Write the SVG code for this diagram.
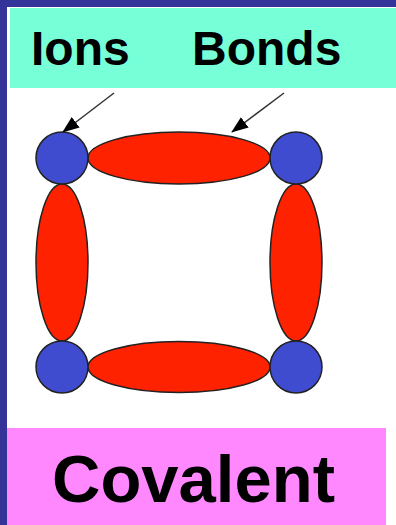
<svg xmlns="http://www.w3.org/2000/svg" width="396" height="525" viewBox="0 0 396 525">
<defs>
<style>
.bond{fill:#FF2200;stroke:#222;stroke-width:1.5}
.ion{fill:#404CCF;stroke:#222;stroke-width:1.5}
.lbl{font-family:"Liberation Sans",Arial,sans-serif;font-weight:bold;fill:#000}
.arr{stroke:#333;stroke-width:1.5;fill:none}
</style>
<marker id="ah" markerWidth="17" markerHeight="13" refX="16" refY="6.5" orient="auto" markerUnits="userSpaceOnUse" viewBox="0 0 17 13">
<path d="M0,0 L17,6.5 L0,13 z" fill="#000"/>
</marker>
</defs>
<rect x="0" y="0" width="396" height="525" fill="#333399"/>
<rect x="7" y="7" width="389" height="518" fill="#fff"/>
<g id="header">
<rect x="10" y="8" width="386" height="80" fill="#77FFD8"/>
<text class="lbl" x="31" y="65" font-size="48">Ions</text>
<text class="lbl" x="192" y="65" font-size="48">Bonds</text>
</g>
<g id="footer">
<rect x="7" y="428" width="379" height="97" fill="#FF88FF"/>
<text class="lbl" x="52" y="502" font-size="67">Covalent</text>
</g>
<g id="bond-top"><ellipse class="bond" cx="179" cy="158" rx="91" ry="26"/></g>
<g id="bond-bottom"><ellipse class="bond" cx="179" cy="367" rx="91" ry="25.5"/></g>
<g id="bond-left"><ellipse class="bond" cx="62" cy="262.5" rx="26" ry="78.5"/></g>
<g id="bond-right"><ellipse class="bond" cx="296" cy="262.5" rx="26" ry="78.5"/></g>
<g id="ion-tl"><circle class="ion" cx="62" cy="158" r="26"/></g>
<g id="ion-tr"><circle class="ion" cx="296" cy="158" r="26"/></g>
<g id="ion-bl"><circle class="ion" cx="62" cy="367" r="26"/></g>
<g id="ion-br"><circle class="ion" cx="296" cy="367" r="26"/></g>
<g id="connectors">
<path class="arr" d="M114,93 L63,132" marker-end="url(#ah)"/>
<path class="arr" d="M284,93 L232,132" marker-end="url(#ah)"/>
</g>
</svg>
